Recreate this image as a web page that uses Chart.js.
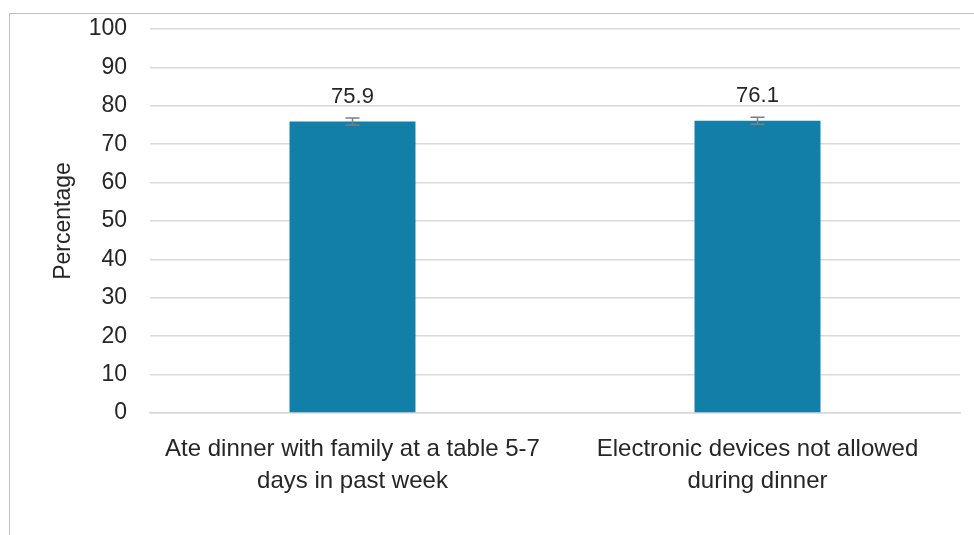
<!DOCTYPE html>
<html>
<head>
<meta charset="utf-8">
<script src="https://cdn.jsdelivr.net/npm/chart.js@4"></script>
<style>
  html, body { margin: 0; padding: 0; background: #fff; }
  #wrap { width: 974px; height: 535px; position: relative; }
</style>
</head>
<body>
<div id="wrap"><canvas id="chart"></canvas></div>
<script>
// Chart data
const categories = [
    ['Ate dinner with family at a table 5-7', 'days in past week'],
    ['Electronic devices not allowed', 'during dinner']
];
const values = [75.9, 76.1];
const errLow = [75.0, 75.2];
const errHigh = [76.8, 77.0];
const yTicks = [0, 10, 20, 30, 40, 50, 60, 70, 80, 90, 100];

const FONT = "'Liberation Sans', Arial, sans-serif";
const TEXT = '#262626';

// Frame around the chart, like the exported image
const framePlugin = {
    id: 'frame',
    beforeDraw(chart) {
        const ctx = chart.ctx;
        ctx.save();
        ctx.strokeStyle = '#bfbfbf';
        ctx.lineWidth = 1;
        ctx.strokeRect(9.5, 13.5, 2000, 2000);
        ctx.restore();
    }
};

// Error bars and value labels above bars
const errorLabelPlugin = {
    id: 'errorLabels',
    afterDatasetsDraw(chart) {
        const ctx = chart.ctx;
        const y = chart.scales.y;
        const meta = chart.getDatasetMeta(0);
        ctx.save();
        meta.data.forEach((bar, i) => {
            const yTop = y.getPixelForValue(errHigh[i]);
            const yBot = y.getPixelForValue(errLow[i]);
            ctx.strokeStyle = '#7f7f7f';
            ctx.lineWidth = 1.5;
            ctx.beginPath();
            ctx.moveTo(bar.x, yTop);
            ctx.lineTo(bar.x, yBot);
            ctx.moveTo(bar.x - 7, yTop);
            ctx.lineTo(bar.x + 7, yTop);
            ctx.moveTo(bar.x - 7, yBot);
            ctx.lineTo(bar.x + 7, yBot);
            ctx.stroke();

            ctx.fillStyle = TEXT;
            ctx.font = '22px ' + FONT;
            ctx.textAlign = 'center';
            ctx.textBaseline = 'alphabetic';
            ctx.fillText(values[i].toFixed(1), bar.x, yTop - 15);
        });
        ctx.restore();
    }
};

new Chart(document.getElementById('chart'), {
    type: 'bar',
    data: {
        labels: categories,
        datasets: [{
            data: values,
            backgroundColor: '#127fa8',
            categoryPercentage: 1,
            barPercentage: 0.311
        }]
    },
    options: {
        responsive: true,
        maintainAspectRatio: false,
        animation: false,
        layout: {
            padding: { top: 29, right: 14, bottom: 0, left: 0 }
        },
        scales: {
            x: {
                grid: { display: false, drawTicks: false },
                border: { display: true, color: '#d9d9d9', width: 1.5 },
                ticks: {
                    color: TEXT,
                    padding: 20,
                    maxRotation: 0,
                    font: { family: FONT, size: 24, lineHeight: '32px' }
                },
                afterFit(scale) { scale.height = 122; }
            },
            y: {
                min: 0,
                max: 100,
                afterBuildTicks(scale) {
                    scale.ticks = yTicks.map(v => ({ value: v }));
                },
                grid: { color: '#d9d9d9', lineWidth: 1.5, drawTicks: false },
                border: { display: false },
                ticks: {
                    color: TEXT,
                    padding: 23,
                    font: { family: FONT, size: 23 }
                },
                title: {
                    display: true,
                    text: 'Percentage',
                    color: TEXT,
                    padding: { top: 50, bottom: 0 },
                    font: { family: FONT, size: 23 }
                },
                afterFit(scale) {
                    scale.width = 150;
                    scale.paddingTop = 0;
                    scale.paddingBottom = 0;
                }
            }
        },
        plugins: {
            legend: { display: false },
            tooltip: { enabled: false }
        }
    },
    plugins: [framePlugin, errorLabelPlugin]
});
</script>
</body>
</html>
